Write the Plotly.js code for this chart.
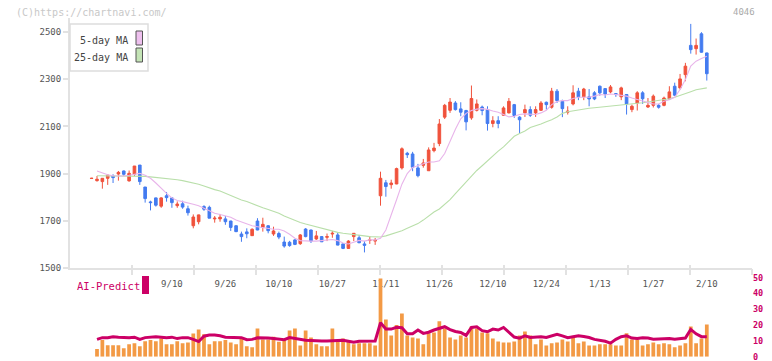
<!DOCTYPE html>
<html>
<head>
<meta charset="utf-8">
<script src="https://cdn.plot.ly/plotly-3.0.1.min.js"></script>
<style>
html,body{margin:0;padding:0;background:#fff;}
#chart{width:772px;height:361px;}
</style>
</head>
<body>
<div id="chart"></div>
<script>
// ---- data ----
const opens = [1879,1870,1866,1880,1889,1898,1911,1869,1897,1936,1843,1780,1797,1762,1806,1797,1764,1772,1751,1679,1696,1760,1757,1708,1708,1708,1699,1679,1644,1653,1637,1699,1672,1679,1644,1646,1610,1609,1619,1603,1665,1661,1623,1633,1630,1644,1640,1602,1583,1633,1628,1602,1617,1614,1806,1861,1853,1856,1924,1986,1983,1924,1935,1912,1997,2027,2139,2168,2199,2174,2167,2136,2168,2182,2171,2112,2124,2147,2157,2192,2139,2157,2171,2157,2168,2202,2181,2249,2206,2160,2195,2249,2225,2225,2242,2270,2260,2246,2239,2225,2235,2171,2199,2242,2182,2189,2189,2189,2216,2270,2263,2319,2443,2429,2492,2411];
const highs = [1882,1890,1881,1897,1897,1911,1913,1913,1932,1936,1843,1785,1798,1800,1822,1798,1782,1785,1764,1727,1726,1766,1764,1720,1729,1720,1700,1680,1654,1668,1668,1711,1713,1681,1675,1654,1633,1615,1623,1644,1669,1662,1657,1635,1646,1657,1650,1604,1618,1648,1640,1614,1635,1627,1908,1873,1874,1925,2011,1992,1992,1941,1962,2011,2030,2131,2195,2220,2207,2202,2170,2273,2214,2188,2185,2143,2143,2185,2220,2195,2143,2192,2185,2185,2207,2205,2263,2258,2213,2185,2274,2263,2263,2258,2249,2273,2262,2275,2241,2268,2237,2192,2249,2249,2220,2235,2195,2226,2270,2285,2322,2369,2534,2472,2499,2412];
const lows = [1878,1866,1836,1852,1860,1870,1890,1866,1890,1852,1777,1744,1760,1755,1781,1755,1755,1751,1722,1668,1685,1742,1711,1692,1696,1683,1657,1652,1611,1626,1636,1660,1654,1647,1636,1622,1586,1590,1597,1598,1630,1606,1619,1610,1614,1628,1596,1580,1582,1614,1605,1566,1602,1598,1764,1802,1836,1855,1917,1966,1910,1884,1925,1912,1990,2016,2131,2157,2167,2143,2083,2128,2163,2147,2082,2096,2092,2145,2155,2136,2072,2140,2140,2140,2165,2171,2175,2199,2139,2150,2189,2211,2211,2185,2211,2230,2220,2240,2225,2211,2150,2160,2167,2195,2178,2180,2175,2185,2212,2228,2256,2291,2408,2404,2412,2294];
const closes = [1880,1876,1880,1893,1883,1905,1897,1901,1932,1866,1794,1777,1766,1797,1798,1777,1771,1758,1734,1716,1725,1749,1711,1711,1715,1696,1672,1654,1633,1645,1664,1661,1685,1658,1657,1631,1593,1595,1600,1640,1633,1614,1636,1611,1633,1647,1597,1583,1614,1647,1607,1596,1619,1618,1880,1845,1860,1921,2005,1980,1927,1891,1945,2000,2008,2110,2189,2203,2171,2160,2119,2218,2195,2167,2112,2124,2112,2178,2206,2146,2128,2171,2147,2171,2199,2192,2249,2209,2175,2164,2242,2225,2258,2216,2216,2242,2237,2267,2235,2263,2195,2185,2242,2217,2189,2228,2181,2220,2246,2232,2301,2355,2425,2443,2414,2323];
const ma5 = [null,1911,1903,1895,1891,1889,1890,1893,1898,1901,1893,1880,1860,1836,1816,1797,1786,1781,1777,1770,1764,1753,1741,1732,1727,1722,1715,1703,1694,1686,1679,1675,1671,1665,1664,1664,1657,1643,1626,1616,1614,1614,1614,1617,1620,1621,1616,1606,1602,1611,1617,1614,1619,1619,1626,1661,1730,1789,1855,1900,1926,1934,1944,1949,1949,1954,1985,2040,2088,2132,2155,2167,2173,2175,2172,2165,2160,2150,2140,2143,2150,2153,2150,2150,2157,2168,2192,2205,2209,2209,2218,2223,2223,2223,2228,2235,2233,2237,2235,2233,2228,2220,2213,2209,2199,2195,2195,2206,2213,2223,2256,2298,2355,2376,2387,2397];
const ma25 = [null,1891,1891,1891,1891,1891,1890,1890,1890,1889,1888,1886,1884,1880,1877,1876,1874,1870,1866,1860,1855,1847,1838,1832,1826,1816,1805,1795,1788,1782,1772,1763,1755,1748,1740,1732,1720,1710,1702,1693,1686,1680,1675,1668,1661,1656,1651,1647,1645,1641,1639,1636,1633,1632,1631,1636,1643,1650,1658,1668,1678,1688,1703,1720,1737,1750,1770,1790,1815,1840,1865,1890,1913,1933,1955,1975,1995,2013,2035,2058,2070,2080,2095,2102,2110,2120,2128,2140,2155,2162,2166,2172,2175,2177,2179,2181,2184,2187,2189,2191,2193,2195,2198,2200,2203,2206,2209,2213,2217,2223,2230,2238,2247,2255,2259,2263];
const volume = [null,4.9,10.6,7.3,7.3,7.3,5.4,7.9,8.5,6.6,9.75,10.6,9.75,11.6,7.9,7.9,9.75,8.5,9.1,14.75,17.25,14.3,7.9,9.75,9.75,10.6,9.1,7.9,12.25,6.6,6.0,17.9,11.0,11.0,12.6,9.5,11.0,16.6,17.9,7.2,16.6,12.2,7.9,6.6,6.6,17.9,9.7,11.6,9.7,7.9,8.5,8.5,8.5,7.2,49.5,23.5,13.5,20.0,27.3,13.5,12.2,11.6,7.9,14.8,15.4,22.5,17.9,12.2,11.0,13.5,12.2,19.1,17.9,15.4,14.8,11.6,9.7,9.1,9.1,9.7,13.5,16.0,13.5,7.9,11.0,7.2,8.5,9.1,11.0,9.7,12.2,8.5,9.7,7.2,7.2,7.9,7.9,7.9,7.2,7.2,14.8,11.0,11.0,7.2,7.9,9.1,7.9,8.5,7.9,6.0,7.2,8.5,19.1,8.5,11.6,20.4];
const aiPredict = [null,11.0,12.1,12.1,12.7,12.4,12.1,12.1,12.4,11.0,12.1,12.4,12.7,12.4,12.1,12.4,11.5,12.1,12.1,11.0,9.6,13.0,13.7,13.7,13.3,12.4,12.4,12.1,12.1,10.8,11.0,12.0,12.0,11.8,11.5,11.0,10.8,12.1,11.5,10.7,10.5,10.3,10.0,10.0,10.0,10.0,10.3,10.5,10.0,9.2,9.8,10.0,10.0,10.0,21.5,17.5,17.5,18.6,18.3,14.5,14.5,16.9,14.8,15.5,16.9,18.0,19.0,17.2,16.0,15.4,13.5,18.5,18.9,16.5,15.8,17.5,16.9,18.5,15.5,12.5,11.8,13.2,12.2,12.4,12.7,12.2,13.3,14.2,13.2,12.1,12.7,13.3,12.8,12.2,11.0,10.5,9.8,8.6,11.0,12.7,13.2,11.8,11.5,12.0,11.8,11.1,11.2,11.5,11.6,11.1,11.3,11.8,17.3,14.5,12.7,12.7];
const tickLabels = ['9/10','9/26','10/10','10/27','11/11','11/26','12/10','12/24','1/13','1/27','2/10'];
const priceTicks = [1500,1700,1900,2100,2300,2500];
const aiTicks = [0,10,20,30,40,50];

// ---- build ----
const n = closes.length;
const idx = closes.map((_, i) => i);
// a date label every 10 sessions, the last one on the last session
const labelPos = tickLabels.map((_, i) => (n - 1) - 10 * (tickLabels.length - 1 - i));

const W = 772, H = 361, L = 70, R = 752;
const px = x => (x - L) / (R - L);
const py = y => (H - y) / H;
const xRange = [-4.05, 123.45];
const divs = [];
for (let k = 1; k <= 11; k++) divs.push(xRange[0] + (xRange[1] - xRange[0]) * k / 11);

const mono = 'DejaVu Sans Mono, monospace';
const AI = '#cc0066';

const traces = [
  {type:'scatter', mode:'lines', x: idx, y: ma25, line:{color:'#b9dfaa', width:1.1}, xaxis:'x', yaxis:'y', hoverinfo:'skip'},
  {type:'scatter', mode:'lines', x: idx, y: ma5, line:{color:'#e8b4ea', width:1.1}, xaxis:'x', yaxis:'y', hoverinfo:'skip'},
  {type:'candlestick', x: idx, open: opens, high: highs, low: lows, close: closes,
   increasing:{line:{color:'#f0523c', width:1}, fillcolor:'#f0523c'},
   decreasing:{line:{color:'#437bf0', width:1}, fillcolor:'#437bf0'},
   whiskerwidth:0, xaxis:'x', yaxis:'y', hoverinfo:'skip'},
  {type:'bar', x: idx, y: volume, marker:{color:'#f39a45', line:{width:0}}, width:0.7, xaxis:'x', yaxis:'y2', hoverinfo:'skip'},
  {type:'scatter', mode:'lines', x: idx, y: aiPredict, line:{color:AI, width:3}, xaxis:'x', yaxis:'y2', hoverinfo:'skip'},
  {type:'scatter', mode:'lines', x: [], y: [], xaxis:'x3', yaxis:'y', hoverinfo:'skip'},
  {type:'scatter', mode:'lines', x: [], y: [], xaxis:'x4', yaxis:'y', hoverinfo:'skip'}
];

const layout = {
  width: W, height: H,
  margin: {l: L, r: W - R, t: 0, b: 0, pad: 0},
  paper_bgcolor: '#fff', plot_bgcolor: 'rgba(0,0,0,0)',
  showlegend: false,
  hovermode: false,
  xaxis: {
    range: xRange, fixedrange: true, rangeslider: {visible: false},
    anchor: 'y', showgrid: false, zeroline: false,
    showline: true, linecolor: '#e2e2e2', linewidth: 2,
    tickmode: 'array', tickvals: labelPos, ticktext: tickLabels,
    ticks: 'outside', ticklen: 6, tickcolor: 'rgba(0,0,0,0)',
    tickfont: {family: mono, size: 9, color: '#555'}
  },
  xaxis3: {
    overlaying: 'x', anchor: 'y', range: xRange, fixedrange: true,
    showgrid: false, zeroline: false, showline: false, showticklabels: false,
    tickmode: 'array', tickvals: divs, ticks: 'outside', ticklen: 6, tickwidth: 2, tickcolor: '#e2e2e2'
  },
  xaxis4: {
    overlaying: 'x', anchor: 'y', range: xRange, fixedrange: true,
    showgrid: false, zeroline: false, showline: false, showticklabels: false,
    tickmode: 'array', tickvals: divs, ticks: 'inside', ticklen: 3, tickwidth: 2, tickcolor: '#e2e2e2'
  },
  yaxis: {
    domain: [py(268), py(18)], range: [1500, 2559], fixedrange: true,
    anchor: 'x', showgrid: false, zeroline: false,
    showline: true, linecolor: '#e2e2e2', linewidth: 2,
    tickmode: 'array', tickvals: priceTicks,
    ticks: 'outside', ticklen: 5, tickwidth: 2, tickcolor: '#e2e2e2',
    tickfont: {family: mono, size: 9, color: '#555'}
  },
  yaxis2: {
    domain: [py(356.8), py(277.6)], range: [0, 50], fixedrange: true,
    anchor: 'x', side: 'right', showgrid: false, zeroline: false, showline: false,
    tickmode: 'array', tickvals: aiTicks, ticks: '', ticklabeloverflow: 'allow',
    tickfont: {family: mono, size: 8.5, color: AI, weight: 'bold'}
  },
  shapes: [
    {type:'rect', xref:'paper', yref:'paper', x0: px(70), x1: px(148), y0: py(71), y1: py(24),
     line:{color:'#dddddd', width:1.5}, fillcolor:'#fff', layer:'above'},
    {type:'rect', xref:'paper', yref:'paper', x0: px(136), x1: px(142.5), y0: py(45), y1: py(31),
     line:{color:'#555', width:1}, fillcolor:'#eec0ee', layer:'above'},
    {type:'rect', xref:'paper', yref:'paper', x0: px(136), x1: px(142.5), y0: py(62), y1: py(48),
     line:{color:'#555', width:1}, fillcolor:'#c4e4b6', layer:'above'},
    {type:'rect', xref:'paper', yref:'paper', x0: px(142), x1: px(149), y0: py(294), y1: py(276),
     line:{width:0}, fillcolor: AI, layer:'above'}
  ],
  annotations: [
    {xref:'paper', yref:'paper', x: px(14), y: py(12), xanchor:'left', yanchor:'middle', showarrow:false,
     text:'(C)https://chartnavi.com/', font:{family: mono, size: 10, color:'#c8c8c8'}},
    {xref:'paper', yref:'paper', x: px(757), y: py(12), xanchor:'right', yanchor:'middle', showarrow:false,
     text:'4046', font:{family: mono, size: 9, color:'#aaaaaa'}},
    {xref:'paper', yref:'paper', x: px(130), y: py(40), xanchor:'right', yanchor:'middle', showarrow:false,
     text:'5-day MA', font:{family: mono, size: 10, color:'#444'}},
    {xref:'paper', yref:'paper', x: px(130), y: py(57), xanchor:'right', yanchor:'middle', showarrow:false,
     text:'25-day MA', font:{family: mono, size: 10, color:'#444'}},
    {xref:'paper', yref:'paper', x: px(75), y: py(286), xanchor:'left', yanchor:'middle', showarrow:false,
     text:'AI-Predict', font:{family: mono, size: 10.5, color: AI}}
  ]
};

Plotly.newPlot('chart', traces, layout, {staticPlot: true, displayModeBar: false});
</script>
</body>
</html>
